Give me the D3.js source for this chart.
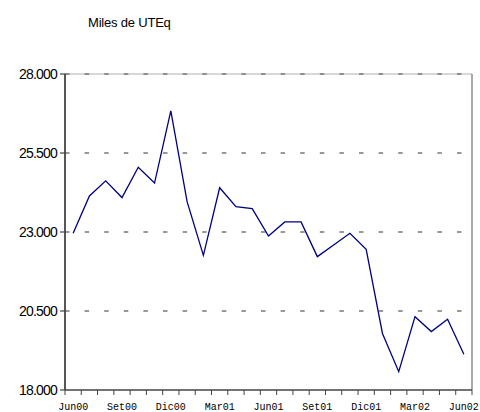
<!DOCTYPE html>
<html lang="es">
<head>
  <meta charset="UTF-8" />
  <title>Miles de UTEq</title>
  <style>
  body {
    margin: 0;
    background: #fff;
  }
  svg {
    display: block;
  }
  .ylab {
    font-family: Arial, "Liberation Sans", sans-serif;
    font-size: 14px;
    letter-spacing: -0.8px;
    fill: #000;
  }
  .xlab {
    font-family: "Courier New", "Liberation Mono", monospace;
    font-size: 10px;
    fill: #000;
  }
  </style>
  <script src="https://d3js.org/d3.v7.min.js"></script>
</head>
<body>
  <div id="chart"></div>
  <script>
    // Months Jun00 .. Jun02
    const months = ["Jun00","Jul00","Ago00","Set00","Oct00","Nov00","Dic00","Ene01","Feb01","Mar01","Abr01","May01",
                    "Jun01","Jul01","Ago01","Set01","Oct01","Nov01","Dic01","Ene02","Feb02","Mar02","Abr02","May02","Jun02"];
    const values = [22960, 24140, 24620, 24090, 25050, 24550, 26830, 23960, 22260, 24400, 23800, 23740,
                    22870, 23320, 23320, 22220, 22590, 22960, 22450, 19790, 18580, 20320, 19850, 20240, 19130];
    const yTicks = [18000, 20500, 23000, 25500, 28000];
    const shownLabels = ["Jun00","Set00","Dic00","Mar01","Jun01","Set01","Dic01","Mar02","Jun02"];

    const width = 480, height = 412;
    const margin = { top: 74, right: 8, bottom: 22, left: 65 };

    const svg = d3.select("#chart").append("svg")
      .attr("width", width)
      .attr("height", height);

    const x = d3.scaleBand()
      .domain(months)
      .range([margin.left, width - margin.right])
      .padding(0);

    const y = d3.scaleLinear()
      .domain([18000, 28000])
      .range([height - margin.bottom, margin.top]);

    const fmt = d3.formatLocale({ decimal: ",", thousands: ".", grouping: [3], currency: ["", ""] }).format(",.0f");

    // title
    svg.append("text")
      .attr("x", 88)
      .attr("y", 27)
      .attr("font-family", "Arial, 'Liberation Sans', sans-serif")
      .attr("font-size", 13)
      .attr("letter-spacing", -0.2)
      .text("Miles de UTEq");

    // plot frame (top + right)
    svg.append("line")
      .attr("x1", margin.left).attr("x2", width - margin.right)
      .attr("y1", y(28000)).attr("y2", y(28000))
      .attr("stroke", "#b0b0b0").attr("stroke-width", 1);
    svg.append("line")
      .attr("x1", width - margin.right).attr("x2", width - margin.right)
      .attr("y1", y(28000)).attr("y2", y(18000))
      .attr("stroke", "#8c8c8c").attr("stroke-width", 1.5);

    // dashed gridlines
    svg.selectAll(".grid")
      .data(yTicks.filter(d => d > 18000))
      .enter().append("line")
      .attr("class", "grid")
      .attr("x1", margin.left).attr("x2", width - margin.right - 4)
      .attr("y1", d => y(d)).attr("y2", d => y(d))
      .attr("stroke", "#777")
      .attr("stroke-width", 1.5)
      .attr("stroke-dasharray", "4.5,15.1");

    // y axis
    svg.append("line")
      .attr("x1", margin.left).attr("x2", margin.left)
      .attr("y1", y(28000)).attr("y2", y(18000))
      .attr("stroke", "#444").attr("stroke-width", 1.8);
    svg.selectAll(".ytick")
      .data(yTicks)
      .enter().append("line")
      .attr("x1", margin.left - 5).attr("x2", margin.left)
      .attr("y1", d => y(d)).attr("y2", d => y(d))
      .attr("stroke", "#444").attr("stroke-width", 1.2);
    svg.selectAll(".ylab")
      .data(yTicks)
      .enter().append("text")
      .attr("class", "ylab")
      .attr("x", margin.left - 8)
      .attr("y", d => y(d) + 5)
      .attr("text-anchor", "end")
      .text(d => fmt(d));

    // x axis
    svg.append("line")
      .attr("x1", margin.left).attr("x2", width - margin.right)
      .attr("y1", y(18000)).attr("y2", y(18000))
      .attr("stroke", "#444").attr("stroke-width", 1.5);
    const tickPos = months.map(m => x(m)).concat([width - margin.right]);
    svg.selectAll(".xtick")
      .data(tickPos)
      .enter().append("line")
      .attr("x1", d => d).attr("x2", d => d)
      .attr("y1", y(18000)).attr("y2", y(18000) + 5)
      .attr("stroke", "#444").attr("stroke-width", 1);
    svg.selectAll(".xlab")
      .data(shownLabels)
      .enter().append("text")
      .attr("class", "xlab")
      .attr("x", d => x(d) + x.bandwidth() / 2)
      .attr("y", y(18000) + 20)
      .attr("text-anchor", "middle")
      .text(d => d);

    // series line
    const line = d3.line()
      .x((d, i) => x(months[i]) + x.bandwidth() / 2)
      .y(d => y(d));
    svg.append("path")
      .datum(values)
      .attr("d", line)
      .attr("fill", "none")
      .attr("stroke", "#000080")
      .attr("stroke-width", 1.3);
  </script>
</body>
</html>
